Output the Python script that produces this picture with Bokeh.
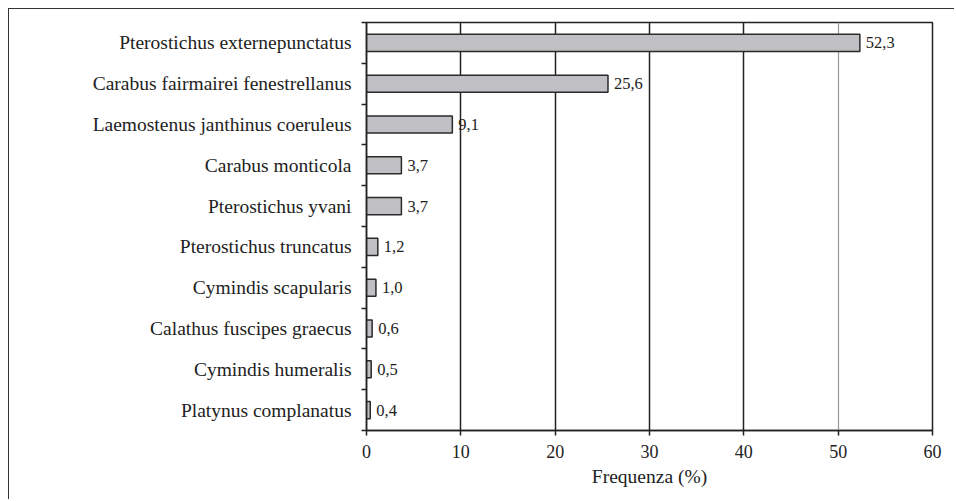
from bokeh.plotting import figure
from bokeh.models import FixedTicker, Grid, ColumnDataSource, Range1d, LabelSet
from bokeh.embed import file_html
from bokeh.resources import INLINE

species = [
    "Pterostichus externepunctatus",
    "Carabus fairmairei fenestrellanus",
    "Laemostenus janthinus coeruleus",
    "Carabus monticola",
    "Pterostichus yvani",
    "Pterostichus truncatus",
    "Cymindis scapularis",
    "Calathus fuscipes graecus",
    "Cymindis humeralis",
    "Platynus complanatus",
]
freq = [52.3, 25.6, 9.1, 3.7, 3.7, 1.2, 1.0, 0.6, 0.5, 0.4]
x_ticks = [0, 10, 20, 30, 40, 50, 60]

n = len(species)
ypos = [n - 0.5 - i for i in range(n)]
labels = [f"{v:.1f}".replace(".", ",") for v in freq]

src = ColumnDataSource(dict(y=ypos, x=freq, lab=labels))

FONT = "Liberation Serif"

p = figure(width=946, height=491, output_backend="svg", toolbar_location=None,
           x_range=Range1d(0, 60), y_range=Range1d(0, n),
           min_border_left=357, min_border_right=23, min_border_top=13, min_border_bottom=70)
p.styles = {"margin-left": "8px", "margin-top": "8px",
            "border-top": "1.5px solid #333", "border-left": "1.5px solid #333"}

p.hbar(y="y", right="x", left=0, height=0.42, source=src,
       fill_color="#c0c0c4", line_color="#2a2a2a", line_width=1.5)

p.add_layout(LabelSet(x="x", y="y", text="lab", source=src, x_offset=6, y_offset=0,
                      text_baseline="middle", text_font=FONT, text_font_size="16.5px",
                      text_color="#222"))

p.xgrid.visible = False
p.ygrid.visible = False
g1 = Grid(dimension=0, ticker=FixedTicker(ticks=[10, 20, 30, 40]),
          grid_line_color="#222", grid_line_width=1.5)
g2 = Grid(dimension=0, ticker=FixedTicker(ticks=[50]),
          grid_line_color="#999", grid_line_width=1.2)
p.add_layout(g1)
p.add_layout(g2)

p.outline_line_color = "#222"
p.outline_line_width = 1.5
p.outline_line_alpha = 1

xa = p.xaxis[0]
xa.ticker = FixedTicker(ticks=x_ticks)
xa.axis_label = "Frequenza (%)"
xa.axis_label_text_font = FONT
xa.axis_label_text_font_style = "normal"
xa.axis_label_text_font_size = "19.5px"
xa.axis_label_text_color = "#222"
xa.major_label_text_font = FONT
xa.major_label_text_font_size = "18px"
xa.major_label_text_color = "#222"
xa.axis_line_color = "#222"
xa.axis_line_width = 1.5
xa.major_tick_line_color = "#222"
xa.major_tick_line_width = 1.5
xa.major_tick_in = 0
xa.major_tick_out = 5
xa.minor_tick_line_color = None
xa.major_label_standoff = 9
xa.axis_label_standoff = 5

ya = p.yaxis[0]
ya.ticker = FixedTicker(ticks=ypos, minor_ticks=list(range(n + 1)))
ya.major_label_overrides = {y: s for y, s in zip(ypos, species)}
ya.major_label_text_font = FONT
ya.major_label_text_font_size = "19.5px"
ya.major_label_text_color = "#222"
ya.major_tick_line_color = None
ya.major_tick_out = 0
ya.major_tick_in = 0
ya.minor_tick_line_color = "#222"
ya.minor_tick_line_width = 1.5
ya.minor_tick_out = 5
ya.minor_tick_in = 0
ya.axis_line_color = "#222"
ya.axis_line_width = 1.5
ya.major_label_standoff = 10

open("out.html", "w").write(file_html(p, INLINE))
